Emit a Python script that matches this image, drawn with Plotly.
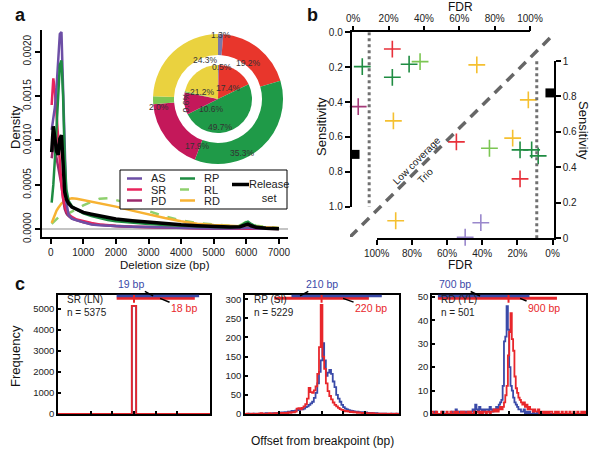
import math
import plotly.graph_objects as go

W, H = 601, 451
FONT = "Liberation Sans, Arial, sans-serif"


def px(x):
    return x / W


def py(y):
    return 1 - y / H


# ---------------- Panel a: deletion-size densities ----------------
DENSITY_UNIT = 1e-4
deletion_size_bp = [30, 80, 130, 180, 230, 280, 330, 380, 430, 480, 550, 650, 800, 1000, 1250, 1500,
                    1750, 2000, 2500, 3000, 3500, 4000, 4500, 5000, 5500, 5800, 5950, 6050, 6150, 6300, 6600, 7000]
density_AS = [11.2, 12.5, 13.8, 16, 19, 22, 22.2, 16, 7, 3, 1.6, 1.2, 1.0, 0.8, 0.55, 0.45,
              0.4, 0.35, 0.3, 0.25, 0.2, 0.15, 0.12, 0.1, 0.1, 0.1, 0.15, 0.2, 0.15, 0.1, 0.07, 0.05]
density_SR = [14, 17, 15.5, 13, 10, 7, 5, 3.5, 2.6, 2.1, 1.7, 1.4, 1.1, 0.9, 0.7, 0.55,
              0.45, 0.4, 0.3, 0.25, 0.2, 0.15, 0.12, 0.1, 0.1, 0.1, 0.12, 0.15, 0.12, 0.08, 0.06, 0.05]
density_PD = [8, 9.5, 9, 8, 7, 6, 5, 3.5, 2.3, 1.8, 1.5, 1.2, 1.0, 0.8, 0.6, 0.5,
              0.42, 0.35, 0.28, 0.22, 0.18, 0.14, 0.11, 0.09, 0.08, 0.08, 0.12, 0.15, 0.1, 0.07, 0.05, 0.04]
density_RP = [3, 5, 8, 12, 15.5, 18.5, 19, 15, 8, 4.5, 3.2, 2.6, 2.2, 1.8, 1.5, 1.25,
              1.05, 0.9, 0.72, 0.6, 0.48, 0.38, 0.3, 0.25, 0.22, 0.3, 0.7, 0.85, 0.6, 0.3, 0.15, 0.08]
density_RL = [0.6, 0.8, 1.0, 1.2, 1.4, 1.5, 1.6, 1.6, 1.6, 1.65, 1.8, 2.0, 2.3, 2.7, 3.1, 3.45,
              3.5, 3.3, 2.8, 2.05, 1.45, 1.0, 0.72, 0.52, 0.4, 0.45, 0.8, 0.95, 0.7, 0.4, 0.28, 0.15]
density_RD = [0.7, 1.2, 1.7, 2.1, 2.4, 2.7, 2.9, 3.05, 3.2, 3.3, 3.4, 3.5, 3.45, 3.3, 3.15, 3.0,
              2.8, 2.55, 2.1, 1.65, 1.27, 0.9, 0.63, 0.48, 0.38, 0.33, 0.32, 0.3, 0.28, 0.25, 0.22, 0.15]
density_release = [8.7, 11.6, 10.2, 8.8, 8.4, 10.2, 10.6, 6.5, 4.2, 3.4, 2.9, 2.5, 2.2, 1.9, 1.7, 1.5,
                   1.3, 1.16, 0.97, 0.8, 0.63, 0.5, 0.4, 0.3, 0.27, 0.3, 0.5, 0.58, 0.4, 0.22, 0.12, 0.05]

density_xticks = [0, 1000, 2000, 3000, 4000, 5000, 6000, 7000]
density_yticks = [0, 0.0005, 0.0010, 0.0015, 0.0020]
density_yticklabels = ["0.0000", "0.0005", "0.0010", "0.0015", "0.0020"]

# pie: inner and outer rings
pie_categories = ["AS", "SR", "RP", "PD", "RL", "RD"]
pie_inner = [0.5, 17.4, 49.7, 10.6, 0.6, 21.2]
pie_outer = [1.3, 19.2, 35.3, 17.9, 2.0, 24.3]
pie_colors = ["#7a78a8", "#e8362c", "#1f9a48", "#c4185a", "#7cc653", "#ead23f"]
# label placement nudges (degrees, clockwise) to mimic the original best-fit labels
pie_outer_label_nudge = [0, -4, 15, -12, 0, 13]
pie_inner_label_nudge = [5, -2, 20, 0, 0, -11]

# ---------------- Panel b: sensitivity vs FDR ----------------
lc_cat = ["SR", "RP", "RP", "RL", "RP", "RD", "PD", "RD"]
lc_fdr = [0.221, 0.051, 0.316, 0.378, 0.221, 0.699, 0.028, 0.227]
lc_sens = [0.096, 0.197, 0.183, 0.168, 0.258, 0.187, 0.426, 0.508]
trio_cat = ["RD", "RD", "SR", "RL", "RP", "RP", "RP", "SR", "RD", "AS", "AS"]
trio_fdr = [0.138, 0.227, 0.547, 0.359, 0.185, 0.119, 0.082, 0.185, 0.892, 0.408, 0.497]
trio_sens = [0.781, 0.565, 0.544, 0.508, 0.499, 0.499, 0.465, 0.335, 0.099, 0.088, 0.006]
release_lc = (0.01, 0.70)
release_trio = (0.015, 0.82)
FDR_THRESHOLD = 0.09
fdr_ticks = [0, 0.2, 0.4, 0.6, 0.8, 1.0]
fdr_ticklabels = ["0%", "20%", "40%", "60%", "80%", "100%"]
sens_ticks = [0, 0.2, 0.4, 0.6, 0.8, 1.0]
sens_ticklabels_left = ["0.0", "0.2", "0.4", "0.6", "0.8", "1.0"]
sens_ticklabels_right = ["0", "0.2", "0.4", "0.6", "0.8", "1"]

# ---------------- Panel c: breakpoint offsets ----------------
sr_bin_start, sr_bin_width = -17, 1
sr_blue = [0, 0, 0, 0, 0, 0, 0, 0, 0, 0, 0, 0, 0, 0, 0, 0, 0, 5150, 0, 0, 0, 0, 0, 0, 0, 0, 0, 0, 0, 0, 0, 0, 0, 0, 0]
sr_red = [0, 0, 0, 0, 0, 0, 0, 0, 0, 0, 0, 0, 0, 0, 0, 0, 0, 5150, 0, 0, 0, 0, 0, 0, 0, 0, 0, 0, 0, 0, 0, 0, 0, 0, 0]

rp_bin_start, rp_bin_width = -176, 4
rp_red = [0, 1, 0, 0, 1, 0, 0, 1, 0, 2, 0, 1, 1, 0, 2, 1, 0, 2, 1,
          2, 1, 3, 2, 3, 2, 4, 3, 5, 4,
          6, 14, 15, 12, 16, 20, 26, 40,
          68, 57, 55, 62, 72, 105, 175,
          285,
          150, 118, 80, 60, 47, 38, 30, 24, 20, 16, 13, 11, 9, 7, 8, 6, 5, 6, 4, 5, 3, 4, 3, 2, 3,
          2, 1, 2, 1, 2, 1, 0, 1, 0, 1, 0, 1, 0, 0, 1, 0, 0, 1, 0, 0]
rp_blue = [0, 0, 1, 0, 0, 1, 0, 0, 1, 0, 1, 0, 2, 1, 0, 1, 2, 1, 2,
           3, 2, 4, 3, 5, 4, 6, 5, 8, 7,
           9, 12, 10, 13, 12, 14, 18, 20,
           24, 28, 32, 42, 55, 80, 110,
           140,
           185, 140, 100, 108, 115, 105, 85, 70, 50, 40, 32, 24, 18, 14, 12, 10, 9, 8, 7, 6, 6, 5, 4, 5, 3,
           4, 3, 2, 3, 2, 1, 2, 1, 1, 0, 1, 0, 1, 0, 0, 1, 0, 0, 1, 0]

rd_bin_start, rd_bin_width = -580, 10
rd_red = [1, 0, 0, 1, 0, 0, 0, 1, 0, 0, 0, 1, 0, 0, 1, 0, 0, 1,
          0, 1, 0, 0, 1, 0, 1, 0, 0, 1, 0, 1, 0, 0, 1, 0, 1, 1, 0, 1,
          0, 1, 1, 0, 1, 1, 0, 1, 1, 2,
          1, 2, 1, 2, 3, 2, 3, 5, 8, 12,
          25, 35, 43, 32, 27, 16, 11, 9, 7, 6,
          5, 4, 5, 3, 4, 2, 3, 2, 2, 1,
          2, 1, 1, 2, 0, 1, 1, 0, 1, 0, 1, 0, 1, 1, 0, 0, 1, 0, 1, 0,
          0, 1, 0, 0, 1, 0, 0, 1, 0, 0, 1, 0, 0, 1, 0, 0, 1, 0, 1, 0]
rd_blue = [0, 0, 1, 0, 0, 0, 0, 0, 1, 0, 0, 0, 0, 0, 0, 1, 0, 0,
           2, 1, 0, 1, 0, 1, 0, 1, 0, 1, 1, 0, 1, 2, 1, 4, 2, 1, 3, 2,
           1, 2, 1, 2, 2, 1, 3, 2, 1, 2,
           2, 3, 2, 4, 5, 6, 12, 31, 33, 46,
           36, 20, 12, 10, 7, 5, 4, 3, 2, 2,
           1, 1, 2, 0, 1, 0, 1, 0, 0, 1,
           0, 0, 1, 0, 0, 0, 0, 0, 0, 0, 0, 0, 0, 0, 0, 0, 0, 0, 0, 0,
           0, 0, 0, 0, 0, 0, 0, 0, 0, 0, 0, 0, 0, 0, 0, 0, 0, 0, 0, 0]

c_titles = ["SR (LN)", "RP (SI)", "RD (YL)"]
c_counts = ["n = 5375", "n = 5229", "n = 501"]
c_blue_span = [(-4, 15), (-70, 140), (-540, 160)]
c_red_span = [(-4, 14), (-110, 110), (-540, 370)]
c_blue_label = ["19 bp", "210 bp", "700 bp"]
c_red_label = ["18 bp", "220 bp", "900 bp"]
c_blue_anchor = [4.4, -50, -218]
c_red_anchor = [6.0, 50, 88]
c_xticks = [[-10, -5, 0, 5, 10], [-100, -50, 0, 50, 100], [-500, -250, 0, 250, 500]]
c_yticks = [[0, 1000, 2000, 3000, 4000, 5000], [0, 50, 100, 150, 200, 250, 300], [0, 10, 20, 30, 40, 50]]

# ---------------- colours ----------------
dens_colors = {"AS": "#6d4fa6", "SR": "#e8245c", "PD": "#9b2a6c", "RP": "#1e8c42",
               "RL": "#8fd06e", "RD": "#f7b232", "Release set": "#000000"}
scatter_colors = {"AS": "#9a88cc", "SR": "#e8303a", "PD": "#a43a78", "RP": "#1f8c42",
                  "RL": "#7cc653", "RD": "#f5c030"}
BLUE = "#3a4aa8"
RED = "#e8262b"

fig = go.Figure()

# ---- Panel a traces ----
dens_series = [("RL", density_RL, "dash", 2.5), ("RD", density_RD, "solid", 2.5),
               ("PD", density_PD, "solid", 2.5), ("SR", density_SR, "solid", 2.5),
               ("AS", density_AS, "solid", 2.5), ("RP", density_RP, "solid", 2.5),
               ("Release set", density_release, "solid", 3.5)]
for name, vals, dash, wd in dens_series:
    fig.add_trace(go.Scatter(x=deletion_size_bp, y=[v * DENSITY_UNIT for v in vals], mode="lines",
                             line=dict(color=dens_colors[name], width=wd, dash=dash),
                             xaxis="x", yaxis="y", showlegend=False, hoverinfo="skip"))

# pies
PIE_CX, PIE_CY, R_OUT, R_HOLE, R_IN = 218, 99, 65, 44, 34
fig.add_trace(go.Pie(values=pie_outer, labels=pie_categories, sort=False, direction="clockwise",
                     rotation=0, hole=R_HOLE / R_OUT, textinfo="none", hoverinfo="skip",
                     marker=dict(colors=pie_colors, line=dict(width=0)), showlegend=False,
                     domain=dict(x=[px(PIE_CX - R_OUT), px(PIE_CX + R_OUT)],
                                 y=[py(PIE_CY + R_OUT), py(PIE_CY - R_OUT)])))
fig.add_trace(go.Pie(values=pie_inner, labels=pie_categories, sort=False, direction="clockwise",
                     rotation=0, textinfo="none", hoverinfo="skip",
                     marker=dict(colors=pie_colors, line=dict(width=0)), showlegend=False,
                     domain=dict(x=[px(PIE_CX - R_IN), px(PIE_CX + R_IN)],
                                 y=[py(PIE_CY + R_IN), py(PIE_CY - R_IN)])))

annotations = []


def pie_labels(values, nudges, r_norm, r_small, thresh, rotate_small):
    total = sum(values)
    cum = 0
    for v, nd in zip(values, nudges):
        mid = (cum + v / 2) / total * 2 * math.pi + math.radians(nd)
        cum += v
        r = r_small if v < thresh else r_norm
        xx = PIE_CX + r * math.sin(mid)
        yy = PIE_CY - r * math.cos(mid)
        ang = -90 if (rotate_small and v < thresh and abs(math.sin(mid)) > 0.7) else 0
        annotations.append(dict(x=px(xx), y=py(yy), xref="paper", yref="paper", text=f"{v:.1f}%",
                                showarrow=False, textangle=ang,
                                font=dict(size=8.5, color="#333333", family=FONT)))


pie_labels(pie_outer, pie_outer_label_nudge, 53, 71, 3, False)
pie_labels(pie_inner, pie_inner_label_nudge, 21, 39, 1, True)

# ---- Panel b traces ----
for cat_list, fdr, sens, xa, ya in [(lc_cat, lc_fdr, lc_sens, "x2", "y2"),
                                    (trio_cat, trio_fdr, trio_sens, "x3", "y3")]:
    fig.add_trace(go.Scatter(x=fdr, y=sens, mode="markers", xaxis=xa, yaxis=ya,
                             marker=dict(symbol="cross-thin", size=12,
                                         line=dict(width=1.6, color=[scatter_colors[c] for c in cat_list])),
                             cliponaxis=False, showlegend=False, hoverinfo="skip"))
fig.add_trace(go.Scatter(x=[FDR_THRESHOLD, FDR_THRESHOLD], y=[0, 1], mode="lines", xaxis="x2", yaxis="y2",
                         line=dict(color="#707070", width=3, dash="dot"), showlegend=False, hoverinfo="skip"))
fig.add_trace(go.Scatter(x=[FDR_THRESHOLD, FDR_THRESHOLD], y=[0, 1], mode="lines", xaxis="x3", yaxis="y3",
                         line=dict(color="#707070", width=3, dash="dot"), showlegend=False, hoverinfo="skip"))
fig.add_trace(go.Scatter(x=[0, 1], y=[0, 1], mode="lines", xaxis="x7", yaxis="y7",
                         line=dict(color="#666666", width=3.5, dash="10px,7px"), showlegend=False,
                         hoverinfo="skip"))
fig.add_trace(go.Scatter(x=[release_lc[0]], y=[release_lc[1]], mode="markers", xaxis="x2", yaxis="y2",
                         marker=dict(symbol="square", size=9, color="black"), cliponaxis=False,
                         showlegend=False, hoverinfo="skip"))
fig.add_trace(go.Scatter(x=[release_trio[0]], y=[release_trio[1]], mode="markers", xaxis="x3", yaxis="y3",
                         marker=dict(symbol="square", size=9, color="black"), cliponaxis=False,
                         showlegend=False, hoverinfo="skip"))


# ---- Panel c traces ----
def stairs(start, width, counts):
    xs = [start - width / 2 + i * width for i in range(len(counts))] + [start - width / 2 + len(counts) * width]
    ys = list(counts) + [counts[-1]]
    return xs, ys


c_xdom = [(58, 210), (245, 399), (432, 586)]
c_xrange = [[-17.5, 17.5], [-178, 180], [-585, 592]]
c_yrange = [[0, 5667], [0, 311], [0, 50.8]]
C_TOP, C_BOTTOM = 295, 414

c_data = [(sr_bin_start, sr_bin_width, sr_blue, sr_red),
          (rp_bin_start, rp_bin_width, rp_blue, rp_red),
          (rd_bin_start, rd_bin_width, rd_blue, rd_red)]
for i, (st, wd, blue, red) in enumerate(c_data):
    xa, ya = f"x{4 + i}", f"y{4 + i}"
    for counts, col in [(blue, BLUE), (red, RED)]:
        xs, ys = stairs(st, wd, counts)
        fig.add_trace(go.Scatter(x=xs, y=ys, mode="lines", line=dict(color=col, width=1.8, shape="hv"),
                                 xaxis=xa, yaxis=ya, showlegend=False, hoverinfo="skip"))
    # x tick labels drawn as a text trace just below the frame (9 px under the axis)
    y0, y1 = c_yrange[i]
    ylab = y0 - 9.5 / (C_BOTTOM - C_TOP) * (y1 - y0)
    fig.add_trace(go.Scatter(x=c_xticks[i], y=[ylab] * len(c_xticks[i]), mode="text",
                             text=[f"{v:d}".replace("-", "\u2212") for v in c_xticks[i]],
                             textposition="middle center", cliponaxis=False,
                             textfont=dict(size=9.5, family=FONT, color="#222"),
                             xaxis=xa, yaxis=ya, showlegend=False, hoverinfo="skip"))

# ---------------- axes ----------------
axis_common = dict(showgrid=False, zeroline=False, showline=True, linecolor="black", linewidth=1.5,
                   ticks="outside", tickcolor="black", tickwidth=1.5, ticklen=5, automargin=False,
                   tickfont=dict(size=10, family=FONT, color="#222"))

layout = dict(width=W, height=H, autosize=False, margin=dict(l=0, r=0, t=0, b=0, pad=0, autoexpand=False),
              paper_bgcolor="white", plot_bgcolor="rgba(0,0,0,0)", hovermode=False, showlegend=False,
              font=dict(family=FONT, color="#222"))

layout["xaxis"] = dict(axis_common, domain=[px(42), px(288)], range=[-267, 7279], anchor="y",
                       tickvals=density_xticks, tickangle=0)
layout["yaxis"] = dict(axis_common, domain=[py(237), py(30)], range=[-0.0000867, 0.002244], anchor="x",
                       tickvals=density_yticks, ticktext=density_yticklabels, tickangle=-90,
                       zeroline=True, zerolinecolor="#c4c4c4", zerolinewidth=2)

layout["xaxis2"] = dict(axis_common, domain=[px(351.5), px(530)], range=[-0.01, 1.0], anchor="y2",
                        side="top", tickvals=fdr_ticks, ticktext=fdr_ticklabels, tickangle=0)
layout["yaxis2"] = dict(axis_common, domain=[py(206.7), py(32.3)], range=[1.0, 0.0], anchor="x2",
                        side="left", tickvals=sens_ticks, ticktext=sens_ticklabels_left)
layout["xaxis3"] = dict(axis_common, domain=[px(376.7), px(554)], range=[1.0, -0.008], anchor="y3",
                        side="bottom", tickvals=fdr_ticks, ticktext=fdr_ticklabels, tickangle=0)
layout["yaxis3"] = dict(axis_common, domain=[py(238.3), py(61)], range=[0, 1.0], anchor="x3",
                        side="right", tickvals=sens_ticks, ticktext=sens_ticklabels_right)
layout["xaxis7"] = dict(domain=[px(350), px(555)], range=[0, 1], anchor="y7", visible=False, automargin=False)
layout["yaxis7"] = dict(domain=[py(237), py(33)], range=[0, 1], anchor="x7", visible=False, automargin=False)

for i in range(3):
    n = 4 + i
    layout[f"xaxis{n}"] = dict(axis_common, domain=[px(c_xdom[i][0]), px(c_xdom[i][1])], range=c_xrange[i],
                               anchor=f"y{n}", mirror=True, ticks="inside", ticklen=3,
                               tickvals=c_xticks[i], showticklabels=False)
    layout[f"yaxis{n}"] = dict(axis_common, domain=[py(C_BOTTOM), py(C_TOP)], range=c_yrange[i],
                               anchor=f"x{n}", mirror=True, ticks="inside", ticklen=3,
                               tickvals=c_yticks[i], tickfont=dict(size=9.5, family=FONT, color="#222"))

# ---------------- shapes ----------------
shapes = []
shapes.append(dict(type="rect", xref="paper", yref="paper", x0=px(120), x1=px(287), y0=py(209), y1=py(170),
                   line=dict(color="black", width=1), fillcolor="white", layer="above"))
legend_entries = [("AS", 127, 178.5), ("SR", 127, 189.5), ("PD", 127, 200.5),
                  ("RP", 180, 178.5), ("RL", 180, 189.5), ("RD", 180, 200.5)]
for name, lx, ly in legend_entries:
    dash = "dash" if name == "RL" else "solid"
    shapes.append(dict(type="line", xref="paper", yref="paper", x0=px(lx), x1=px(lx + 15), y0=py(ly), y1=py(ly),
                       line=dict(color=dens_colors[name], width=2.5, dash=dash), layer="above"))
    annotations.append(dict(x=px(lx + 22), y=py(ly), xref="paper", yref="paper", text=name, showarrow=False,
                            xanchor="left", yanchor="middle", font=dict(size=11, family=FONT, color="#222")))
shapes.append(dict(type="line", xref="paper", yref="paper", x0=px(232), x1=px(249), y0=py(184.5), y1=py(184.5),
                   line=dict(color="black", width=3.5), layer="above"))
annotations.append(dict(x=px(268.5), y=py(190.5), xref="paper", yref="paper", text="Release<br>set",
                        showarrow=False, xanchor="center", yanchor="middle",
                        font=dict(size=11, family=FONT, color="#222")))

for i in range(3):
    n = 4 + i
    b0, b1 = c_blue_span[i]
    r0, r1 = c_red_span[i]
    shapes.append(dict(type="line", xref=f"x{n}", yref=f"y{n} domain", x0=r0, x1=r1, y0=0.972, y1=0.972,
                       line=dict(color=RED, width=3)))
    shapes.append(dict(type="line", xref=f"x{n}", yref=f"y{n} domain", x0=b0, x1=b1, y0=0.992, y1=0.992,
                       line=dict(color=BLUE, width=2.5)))
    shapes.append(dict(type="line", xref=f"x{n}", yref=f"y{n} domain", x0=0, x1=0, y0=0.935, y1=1.0,
                       line=dict(color=RED, width=2)))
    annotations.append(dict(x=c_blue_anchor[i], y=0.992, xref=f"x{n}", yref=f"y{n} domain",
                            text=c_blue_label[i], showarrow=True, arrowhead=0, arrowwidth=1.5,
                            arrowcolor="black", ax=[-22, 22, -25][i], ay=-12,
                            font=dict(size=10.5, family=FONT, color=BLUE)))
    annotations.append(dict(x=c_red_anchor[i], y=0.972, xref=f"x{n}", yref=f"y{n} domain",
                            text=c_red_label[i], showarrow=True, arrowhead=0, arrowwidth=1.5,
                            arrowcolor="black", ax=[24, 28, 24][i], ay=10,
                            font=dict(size=10.5, family=FONT, color=RED)))
    annotations.append(dict(x=px(c_xdom[i][0] + 7), y=py(307), xref="paper", yref="paper", text=c_titles[i],
                            showarrow=False, xanchor="left", font=dict(size=10, family=FONT, color="#222")))
    annotations.append(dict(x=px(c_xdom[i][0] + 7), y=py(320), xref="paper", yref="paper", text=c_counts[i],
                            showarrow=False, xanchor="left", font=dict(size=10, family=FONT, color="#222")))


def txt(x, y, s, size=12, angle=0, bold=False, anchor="center"):
    annotations.append(dict(x=px(x), y=py(y), xref="paper", yref="paper",
                            text=f"<b>{s}</b>" if bold else s, showarrow=False, textangle=angle,
                            xanchor=anchor, yanchor="middle", font=dict(size=size, family=FONT, color="#111")))


txt(20, 15, "a", 18, bold=True)
txt(312, 15, "b", 18, bold=True)
txt(20, 284, "c", 18, bold=True)
txt(15, 127, "Density", 13, angle=-90)
txt(165, 265, "Deletion size (bp)", 11.5)
txt(460, 7, "FDR", 12)
txt(460, 265, "FDR", 12)
txt(321, 127, "Sensitivity", 13, angle=-90)
txt(584, 130, "Sensitivity", 13, angle=90)
txt(15, 356, "Frequency", 13, angle=-90)
txt(322, 441, "Offset from breakpoint (bp)", 12)
annotations.append(dict(x=0.325, y=0.377, xref="x7", yref="y7", text="Low coverage", showarrow=False,
                        textangle=-45, font=dict(size=10, family=FONT, color="#222")))
annotations.append(dict(x=0.37, y=0.30, xref="x7", yref="y7", text="Trio", showarrow=False,
                        textangle=-45, font=dict(size=10, family=FONT, color="#222")))

layout["shapes"] = shapes
layout["annotations"] = annotations
fig.update_layout(**layout)
fig.write_html("out.html", config={"displayModeBar": False},
               post_script="document.body.style.margin='0px';document.body.style.padding='0px';"
                           "document.body.style.overflow='hidden';")
